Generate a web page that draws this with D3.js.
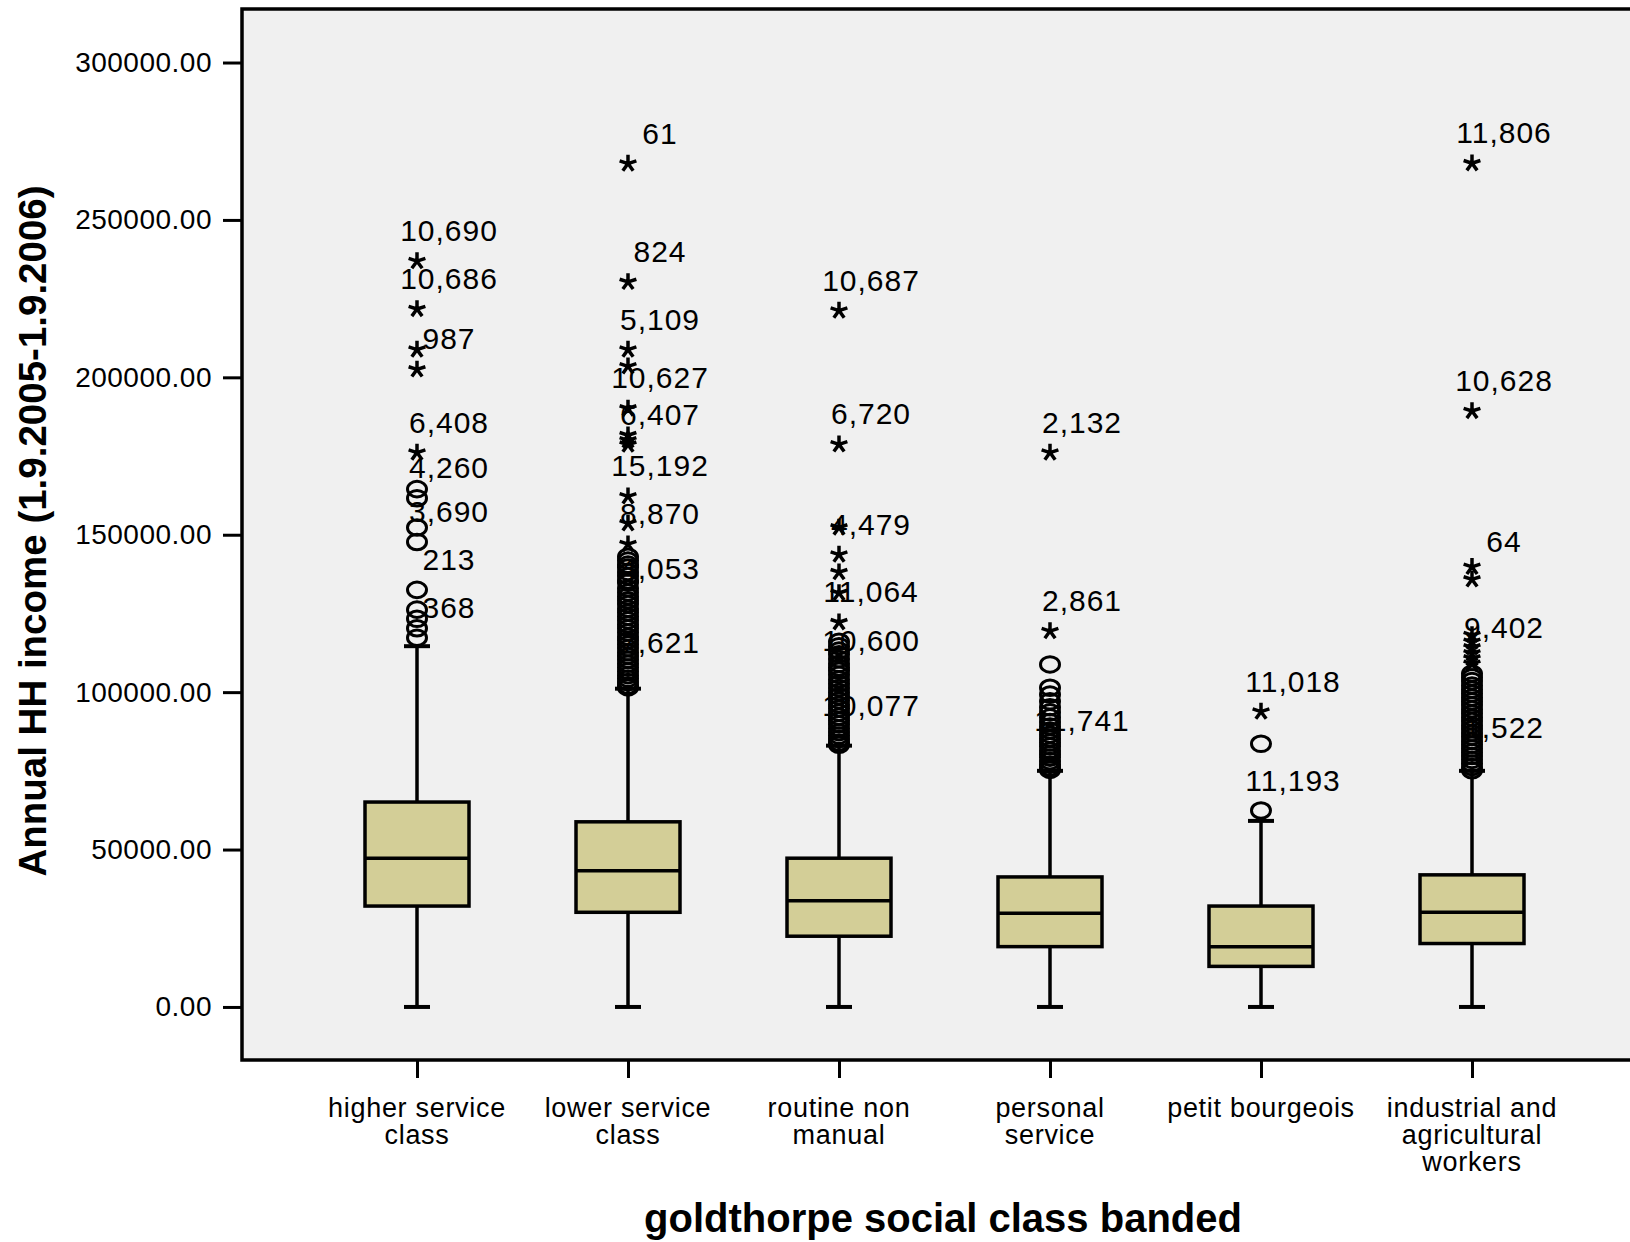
<!DOCTYPE html>
<html>
<head>
<meta charset="utf-8">
<script src="https://cdn.jsdelivr.net/npm/d3@7"></script>
<style>
  body { margin: 0; background: #fff; }
  text { font-family: "Liberation Sans", Arial, sans-serif; fill: #000; }
</style>
</head>
<body>
<div id="chart"></div>
<script>
// categories + box stats
const categories = ["higher service class", "lower service class", "routine non manual",
  "personal service", "petit bourgeois", "industrial and agricultural workers"];
const categoryLines = [["higher service", "class"], ["lower service", "class"], ["routine non", "manual"],
  ["personal", "service"], ["petit bourgeois"], ["industrial and", "agricultural", "workers"]];
const q1 = [32050, 30070, 22470, 19160, 12890, 20150];
const medians = [47250, 43280, 33700, 29740, 19160, 30070];
const q3 = [65090, 58810, 47250, 41300, 32050, 41960];
const whiskerLow = [0, 0, 0, 0, 0, 0];
const whiskerHigh = [114600, 101100, 83000, 75000, 59100, 75000];
const yTicks = [0, 50000, 100000, 150000, 200000, 250000, 300000];

// extreme values (stars) per group
const extremeValues = [
  [236900, 221700, 208800, 202500, 176100],
  [267900, 230300, 208800, 203500, 190100, 181600, 180000, 178600, 162200, 153600, 147000],
  [221200, 178700, 152300, 143700, 138100, 131500, 122200],
  [176100, 119400],
  [93800],
  [268000, 189300, 139800, 135800, 118100, 116000, 114200, 112300, 110700, 109000]
];
// outliers (circles) per group
const outlierValues = [
  [164500, 161600, 152300, 147700, 132500, 126200, 123300, 120300, 117300],
  [143000, 141800, 140500, 139600, 138200, 136900, 135500, 134800, 133000, 131700, 130400, 129200,
   128000, 126500, 125300, 124000, 122800, 121500, 120300, 119000, 117600, 116500, 115200, 114000,
   112700, 111500, 110300, 109000, 107800, 106600, 105400, 104300, 103200, 102100, 101500],
  [116000, 114600, 113200, 112000, 110500, 109000, 107800, 106800, 105500, 104000, 102700, 101300,
   100000, 98700, 97400, 96000, 94800, 93500, 92200, 91000, 89800, 88500, 87300, 86200, 85100, 84000, 83300],
  [108800, 101400, 99250, 97100, 95200, 93600, 92000, 90500, 89100, 87800, 86500, 85200, 84000,
   82800, 81400, 80300, 79200, 78100, 77000, 76100, 75300],
  [83600, 62400],
  [105900, 104700, 103500, 102100, 100800, 99600, 98300, 97100, 95900, 94600, 93300, 92000, 90800,
   89500, 88300, 87000, 85800, 84500, 83300, 82100, 80900, 79700, 78500, 77300, 76200, 75200]
];
// case number labels [value, label]
const caseLabels = [
  [[236900, "10,690"], [221700, "10,686"], [202500, "987"], [176100, "6,408"], [161600, "4,260"],
   [147700, "3,690"], [132500, "213"], [117300, "368"]],
  [[267900, "61"], [230300, "824"], [208800, "5,109"], [190100, "10,627"], [178600, "6,407"],
   [162200, "15,192"], [147000, "8,870"], [129500, "4,053"], [106000, "7,621"]],
  [[221200, "10,687"], [178700, "6,720"], [143700, "4,479"], [122200, "11,064"], [106800, "10,600"],
   [86200, "10,077"]],
  [[176100, "2,132"], [119400, "2,861"], [81400, "11,741"]],
  [[93800, "11,018"], [62400, "11,193"]],
  [[268000, "11,806"], [189300, "10,628"], [138300, "64"], [110700, "9,402"], [79000, "1,522"]]
];

const width = 1630, height = 1242;
const margin = { top: 9, right: 0, bottom: 182, left: 242 };
const boxW = 104, capW = 26;

const svg = d3.select("#chart").append("svg")
  .attr("width", width).attr("height", height);

const x = d3.scalePoint()
  .domain(categories)
  .range([margin.left + 175, margin.left + 1230]);

const y = d3.scaleLinear()
  .domain([-16850, 317000])
  .range([height - margin.bottom, margin.top]);

// plot area
svg.append("rect")
  .attr("x", margin.left).attr("y", margin.top)
  .attr("width", width - margin.left).attr("height", height - margin.bottom - margin.top)
  .attr("fill", "#f0f0f0");

// axes
const yAxis = svg.append("g")
  .attr("transform", `translate(${margin.left},0)`)
  .call(d3.axisLeft(y).tickValues(yTicks).tickFormat(d3.format(".2f")).tickSize(19).tickPadding(11));
yAxis.select(".domain").remove();
yAxis.selectAll(".tick line").attr("stroke", "#000").attr("stroke-width", 3);
yAxis.selectAll(".tick text")
  .attr("font-size", 28).attr("letter-spacing", 0.5)
  .attr("font-family", "Liberation Sans, Arial, sans-serif");

const xAxis = svg.append("g")
  .attr("transform", `translate(0,${height - margin.bottom})`)
  .call(d3.axisBottom(x).tickSize(18).tickFormat(""));
xAxis.select(".domain").remove();
xAxis.selectAll(".tick line").attr("stroke", "#000").attr("stroke-width", 3);

// frame lines
svg.append("path")
  .attr("d", `M${width},${margin.top}H${margin.left}V${height - margin.bottom}H${width}`)
  .attr("fill", "none").attr("stroke", "#000").attr("stroke-width", 3.5);

// category labels
categories.forEach((c, i) => {
  const t = svg.append("text")
    .attr("x", x(c)).attr("y", 1117)
    .attr("text-anchor", "middle")
    .attr("font-size", 27).attr("letter-spacing", 0.7);
  categoryLines[i].forEach((ln, j) => {
    t.append("tspan").attr("x", x(c)).attr("y", 1117 + j * 27).text(ln);
  });
});

// axis titles
svg.append("text")
  .attr("x", (margin.left + width) / 2 + 7).attr("y", 1232)
  .attr("text-anchor", "middle")
  .attr("font-size", 40).attr("font-weight", "bold")
  .text("goldthorpe social class banded");

svg.append("text")
  .attr("transform", `translate(46,531) rotate(-90)`)
  .attr("text-anchor", "middle")
  .attr("font-size", 38.5).attr("font-weight", "bold")
  .text("Annual HH income (1.9.2005-1.9.2006)");

// boxes
const groups = svg.append("g").selectAll("g")
  .data(categories)
  .join("g")
  .attr("transform", d => `translate(${x(d)},0)`);

groups.append("line")
  .attr("y1", (d, i) => y(whiskerLow[i])).attr("y2", (d, i) => y(q1[i]))
  .attr("stroke", "#000").attr("stroke-width", 3.5);
groups.append("line")
  .attr("y1", (d, i) => y(q3[i])).attr("y2", (d, i) => y(whiskerHigh[i]))
  .attr("stroke", "#000").attr("stroke-width", 3.5);
groups.append("line")
  .attr("x1", -capW / 2).attr("x2", capW / 2)
  .attr("y1", (d, i) => y(whiskerLow[i])).attr("y2", (d, i) => y(whiskerLow[i]))
  .attr("stroke", "#000").attr("stroke-width", 4);
groups.append("line")
  .attr("x1", -capW / 2).attr("x2", capW / 2)
  .attr("y1", (d, i) => y(whiskerHigh[i])).attr("y2", (d, i) => y(whiskerHigh[i]))
  .attr("stroke", "#000").attr("stroke-width", 4);

groups.append("rect")
  .attr("x", -boxW / 2).attr("width", boxW)
  .attr("y", (d, i) => y(q3[i]))
  .attr("height", (d, i) => y(q1[i]) - y(q3[i]))
  .attr("fill", "#d3ce97").attr("stroke", "#000").attr("stroke-width", 3.5);
groups.append("line")
  .attr("x1", -boxW / 2).attr("x2", boxW / 2)
  .attr("y1", (d, i) => y(medians[i])).attr("y2", (d, i) => y(medians[i]))
  .attr("stroke", "#000").attr("stroke-width", 3.5);

// case labels
groups.each(function (d, i) {
  d3.select(this).selectAll("text.case")
    .data(caseLabels[i])
    .join("text")
    .attr("class", "case")
    .attr("x", 32)
    .attr("y", v => y(v[0]) - 20)
    .attr("text-anchor", "middle")
    .attr("font-size", 30).attr("letter-spacing", 1)
    .text(v => v[1]);
});

// markers
function starPath(r) {
  let p = "";
  for (let k = 0; k < 5; k++) {
    const a = -Math.PI / 2 + k * 2 * Math.PI / 5;
    p += `M0,0L${(r * Math.cos(a)).toFixed(2)},${(r * Math.sin(a)).toFixed(2)}`;
  }
  return p;
}
const star = starPath(8.8);

groups.each(function (d, i) {
  const g = d3.select(this);
  g.selectAll("ellipse.out")
    .data(outlierValues[i])
    .join("ellipse")
    .attr("class", "out")
    .attr("cy", v => y(v))
    .attr("rx", 9.5).attr("ry", 7.8)
    .attr("fill", "none").attr("stroke", "#000").attr("stroke-width", 3);
  g.selectAll("path.ext")
    .data(extremeValues[i])
    .join("path")
    .attr("class", "ext")
    .attr("transform", v => `translate(0,${y(v)})`)
    .attr("d", star)
    .attr("fill", "none").attr("stroke", "#000").attr("stroke-width", 3.5)
    .attr("stroke-linecap", "butt");
});
</script>
</body>
</html>
